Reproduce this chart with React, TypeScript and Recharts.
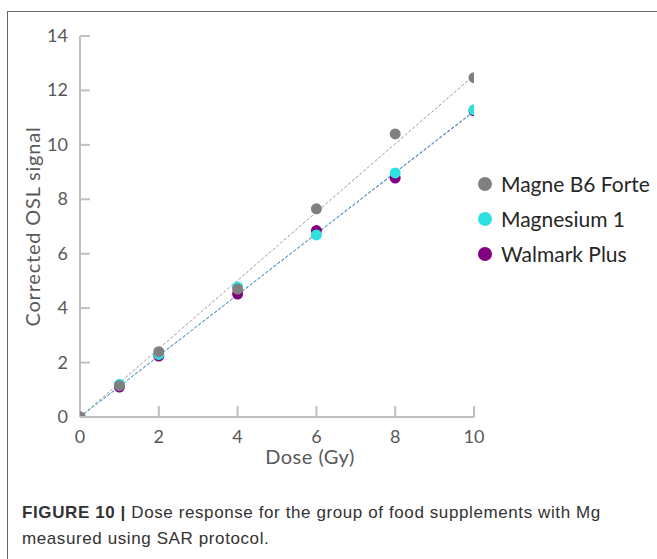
import { ComposedChart, Scatter, Line, XAxis, YAxis, Legend, Label } from 'recharts'

// doses (Gy) and corrected OSL signal per supplement
const DOSES = [0, 1, 2, 4, 6, 8, 10]
const MAGNE_B6 = [0, 1.15, 2.4, 4.7, 7.65, 10.4, 12.47]
const MAGNESIUM_1 = [0, 1.2, 2.3, 4.78, 6.69, 8.97, 11.29]
const WALMARK_PLUS = [0, 1.1, 2.24, 4.52, 6.85, 8.78, 11.25]

// dashed trend lines, endpoints as drawn
const TREND_X = [0, 10]
const TREND_MAGNE = [0, 12.55]
const TREND_MAGNESIUM = [0, 11.25]
const TREND_WALMARK = [0, 11.22]

const X_TICKS = [0, 2, 4, 6, 8, 10]
const Y_TICKS = [0, 2, 4, 6, 8, 10, 12, 14]

const SERIES = [
  { name: 'Magne B6 Forte', values: MAGNE_B6, trend: TREND_MAGNE, color: '#808080', trendColor: '#9a9a9a' },
  { name: 'Magnesium 1', values: MAGNESIUM_1, trend: TREND_MAGNESIUM, color: '#2fe0e0', trendColor: '#2fd0e0' },
  { name: 'Walmark Plus', values: WALMARK_PLUS, trend: TREND_WALMARK, color: '#800080', trendColor: '#9a3aa0' },
]

const pts = (ys: number[]) => DOSES.map((x, i) => ({ x, y: ys[i] }))
const trendPts = (ys: number[]) => TREND_X.map((x, i) => ({ x, y: ys[i] }))

const AXIS = '#bfbfbf'
const TICK_TEXT = '#595959'
const FONT = 'Lato, "Open Sans", sans-serif'

function YTick({ x, y, payload }: any) {
  return (
    <g>
      <line x1={x + 8} x2={x + 18} y1={y} y2={y} stroke={AXIS} strokeWidth={2} />
      <text x={x - 4} y={y} dy={6} textAnchor="end" fill={TICK_TEXT} fontSize={18} fontFamily={FONT}>
        {payload.value}
      </text>
    </g>
  )
}

// y arrives 8px below the axis line (tickSize + tickMargin)
function XTick({ x, y, payload }: any) {
  return (
    <g>
      {payload.value !== 0 && <line x1={x} x2={x} y1={y - 8} y2={y - 19} stroke={AXIS} strokeWidth={2} />}
      <text x={x} y={y + 18} textAnchor="middle" fill={TICK_TEXT} fontSize={18} fontFamily={FONT}>
        {payload.value}
      </text>
    </g>
  )
}

function LegendBox() {
  return (
    <div style={{ fontFamily: FONT, fontSize: 21, color: '#262626' }}>
      {SERIES.map(s => (
        <div key={s.name} style={{ display: 'flex', alignItems: 'center', height: 35 }}>
          <span style={{ width: 14, height: 14, borderRadius: 7, background: s.color, marginRight: 9 }} />
          <span>{s.name}</span>
        </div>
      ))}
    </div>
  )
}

export default function App() {
  return (
    <div style={{ position: 'absolute', left: 0, top: 0, width: 657, height: 559, background: '#fff', overflow: 'hidden' }}>
      <div style={{ position: 'absolute', left: 7, top: 11, width: 700, height: 600, borderLeft: '1.5px solid #666', borderTop: '1.5px solid #666' }} />
      <ComposedChart width={657} height={480} margin={{ top: 36, right: 183, bottom: 13, left: 20 }}>
        <XAxis type="number" dataKey="x" domain={[0, 10]} ticks={X_TICKS} allowDataOverflow
          stroke={AXIS} strokeWidth={2} tickLine={false} tick={<XTick />} height={50}>
          <Label value="Dose (Gy)" position="insideBottom" offset={3} dx={33} fill={TICK_TEXT} fontSize={20} letterSpacing={0.5} fontFamily={FONT} />
        </XAxis>
        <YAxis type="number" dataKey="y" domain={[0, 14]} ticks={Y_TICKS} allowDataOverflow
          stroke={AXIS} strokeWidth={2} tickLine={false} tick={<YTick />} tickSize={0} tickMargin={8} width={60}>
          <Label value="Corrected OSL signal" angle={-90} position="insideLeft" offset={13} fill={TICK_TEXT} fontSize={20} letterSpacing={0.8} fontFamily={FONT} style={{ textAnchor: 'middle' }} />
        </YAxis>
        <Legend layout="horizontal" align="center" verticalAlign="middle" content={() => <LegendBox />}
          wrapperStyle={{ left: 478, top: 166, width: 180, height: 105 }} />
        {[...SERIES].reverse().map(s => (
          <Line key={s.name + '-trend'} data={trendPts(s.trend)} dataKey="y" type="linear" stroke={s.trendColor}
            strokeWidth={1} strokeDasharray="3 2" dot={false} activeDot={false} legendType="none" isAnimationActive={false} />
        ))}
        {[...SERIES].reverse().map(s => (
          <Scatter key={s.name} name={s.name} data={pts(s.values)} fill={s.color} isAnimationActive={false}
            shape={(p: any) => <circle cx={p.cx} cy={p.cy} r={5.5} fill={s.color} />} />
        ))}
      </ComposedChart>
      <div style={{ position: 'absolute', left: 22, top: 500, fontFamily: '"Liberation Sans", Arial, sans-serif', fontSize: 17, letterSpacing: 0.6, lineHeight: '26px', color: '#333' }}>
        <b>FIGURE 10 |</b> Dose response for the group of food supplements with Mg
        <br />measured using SAR protocol.
      </div>
    </div>
  )
}
